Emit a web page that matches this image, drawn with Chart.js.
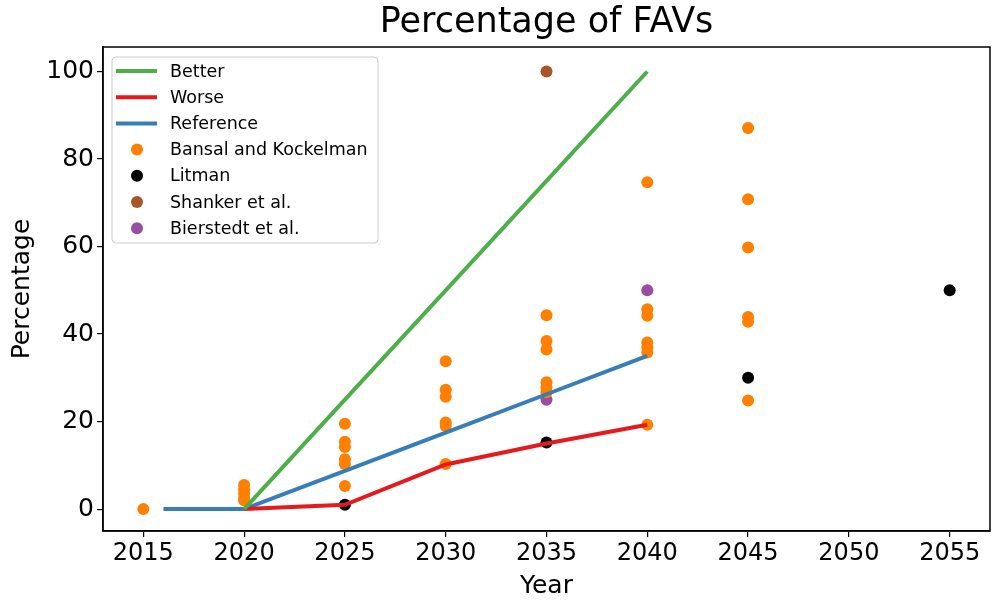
<!DOCTYPE html>
<html>
<head>
<meta charset="utf-8">
<script src="https://cdn.jsdelivr.net/npm/chart.js@4/dist/chart.umd.min.js"></script>
<style>
  body { margin: 0; background: #fff; }
</style>
</head>
<body>
<canvas id="favChart" width="996" height="605"></canvas>
<script>
'use strict';

// scenario lines
var lineYears = [2020, 2025, 2030, 2035, 2040];
var better    = [0, 25, 50, 75, 100];
var worse     = [0, 1, 10.2, 15, 19.3];
var refYears  = [2016, 2020, 2025, 2030, 2035, 2040];
var reference = [0, 0, 8.75, 17.5, 26.25, 35];

// survey points
var bansalYears  = [2015,
                    2020, 2020, 2020, 2020, 2020,
                    2025, 2025, 2025, 2025, 2025, 2025,
                    2030, 2030, 2030, 2030, 2030, 2030,
                    2035, 2035, 2035, 2035, 2035, 2035,
                    2040, 2040, 2040, 2040, 2040, 2040, 2040,
                    2045, 2045, 2045, 2045, 2045, 2045];
var bansalValues = [0,
                    5.5, 4.5, 3.5, 2.5, 2,
                    19.5, 15.4, 14.2, 11.4, 10.3, 5.3,
                    33.8, 27.3, 25.7, 19.8, 19, 10.3,
                    44.3, 38.4, 36.5, 29, 27.8, 26.7,
                    74.7, 45.7, 44.2, 38.1, 37, 35.8, 19.3,
                    87.1, 70.8, 59.8, 43.9, 42.8, 24.8];
var litmanYears  = [2025, 2035, 2045, 2055];
var litmanValues = [1, 15.2, 30, 50];
var shankerYears  = [2035];
var shankerValues = [100];
var bierstedtYears  = [2035, 2040];
var bierstedtValues = [25, 50];

var xTicks = [2015, 2020, 2025, 2030, 2035, 2040, 2045, 2050, 2055];
var yTicks = [0, 20, 40, 60, 80, 100];
var chartTitle = 'Percentage of FAVs';

function pts(xs, ys) {
    return xs.map(function (x, i) { return { x: x, y: ys[i] }; });
}

function lineSet(label, xs, ys, color) {
    return {
        label: label,
        data: pts(xs, ys),
        showLine: true,
        borderColor: color,
        backgroundColor: color,
        borderWidth: 4,
        pointRadius: 0,
        pointHoverRadius: 0,
        tension: 0,
        fill: false,
        isLine: true
    };
}

function dotSet(label, xs, ys, color) {
    return {
        label: label,
        data: pts(xs, ys),
        backgroundColor: color,
        borderWidth: 0,
        pointRadius: 6,
        pointHoverRadius: 6
    };
}

var FONT = "'DejaVu Sans', sans-serif";

// title over the axes, the full frame and a matplotlib style legend inside
var frameAndLegend = {
    id: 'frameAndLegend',
    afterDraw: function (chart) {
        var ctx = chart.ctx;
        var a = chart.chartArea;
        ctx.save();

        ctx.fillStyle = '#000';
        ctx.font = '35px ' + FONT;
        ctx.textAlign = 'center';
        ctx.textBaseline = 'middle';
        ctx.fillText(chartTitle, (a.left + a.right) / 2, 23);
        ctx.textAlign = 'left';

        ctx.strokeStyle = '#000';
        ctx.lineWidth = 1.5;
        ctx.strokeRect(a.left, a.top, a.right - a.left, a.bottom - a.top);

        var bx = 112, by = 57, bw = 266, bh = 186;
        ctx.beginPath();
        ctx.roundRect(bx, by, bw, bh, 4);
        ctx.fillStyle = 'rgba(255,255,255,0.8)';
        ctx.fill();
        ctx.strokeStyle = '#cccccc';
        ctx.lineWidth = 1;
        ctx.stroke();

        ctx.font = '17.5px ' + FONT;
        ctx.textBaseline = 'middle';
        chart.data.datasets.forEach(function (ds, i) {
            var y = 71 + i * 26.2;
            if (ds.isLine) {
                ctx.beginPath();
                ctx.moveTo(116, y);
                ctx.lineTo(157, y);
                ctx.strokeStyle = ds.borderColor;
                ctx.lineWidth = 4;
                ctx.stroke();
            } else {
                ctx.beginPath();
                ctx.arc(137, y, 6, 0, Math.PI * 2);
                ctx.fillStyle = ds.backgroundColor;
                ctx.fill();
            }
            ctx.fillStyle = '#000';
            ctx.fillText(ds.label, 170, y + 1);
        });
        ctx.restore();
    }
};

var favChart = new Chart(document.getElementById('favChart'), {
    type: 'scatter',
    data: {
        datasets: [
            lineSet('Better', lineYears, better, '#4daf4a'),
            lineSet('Worse', lineYears, worse, '#e41a1c'),
            lineSet('Reference', refYears, reference, '#377eb8'),
            dotSet('Bansal and Kockelman', bansalYears, bansalValues, '#ff7f00'),
            dotSet('Litman', litmanYears, litmanValues, '#000000'),
            dotSet('Shanker et al.', shankerYears, shankerValues, '#a65628'),
            dotSet('Bierstedt et al.', bierstedtYears, bierstedtValues, '#984ea3')
        ]
    },
    options: {
        responsive: false,
        animation: false,
        layout: { padding: { left: 0, right: 3, top: 47, bottom: 0 } },
        plugins: {
            legend: { display: false },
            tooltip: { enabled: false },
            title: { display: false }
        },
        scales: {
            x: {
                type: 'linear',
                min: 2013,
                max: 2057,
                afterBuildTicks: function (scale) {
                    scale.ticks = xTicks.map(function (v) { return { value: v }; });
                },
                afterFit: function (scale) { scale.height = 74; },
                grid: { drawOnChartArea: false, drawTicks: true, tickLength: 6, color: '#000', lineWidth: 1.2 },
                border: { display: true, color: '#000', width: 1.5 },
                ticks: {
                    color: '#000',
                    padding: 2,
                    font: { family: FONT, size: 24 },
                    maxRotation: 0,
                    autoSkip: false,
                    callback: function (v) { return String(v); }
                },
                title: {
                    display: true,
                    text: 'Year',
                    color: '#000',
                    font: { family: FONT, size: 25 },
                    padding: { top: 0, bottom: 4 }
                }
            },
            y: {
                type: 'linear',
                min: -5,
                max: 105.6,
                afterBuildTicks: function (scale) {
                    scale.ticks = yTicks.map(function (v) { return { value: v }; });
                },
                afterFit: function (scale) { scale.width = 103; },
                grid: { drawOnChartArea: false, drawTicks: true, tickLength: 6, color: '#000', lineWidth: 1.2 },
                border: { display: true, color: '#000', width: 1.5 },
                ticks: {
                    color: '#000',
                    padding: 3,
                    font: { family: FONT, size: 25 },
                    autoSkip: false,
                    callback: function (v) { return String(v); }
                },
                title: {
                    display: true,
                    text: 'Percentage',
                    color: '#000',
                    font: { family: FONT, size: 25 },
                    padding: { top: 7, bottom: 0 }
                }
            }
        }
    },
    plugins: [frameAndLegend]
});
</script>
</body>
</html>
